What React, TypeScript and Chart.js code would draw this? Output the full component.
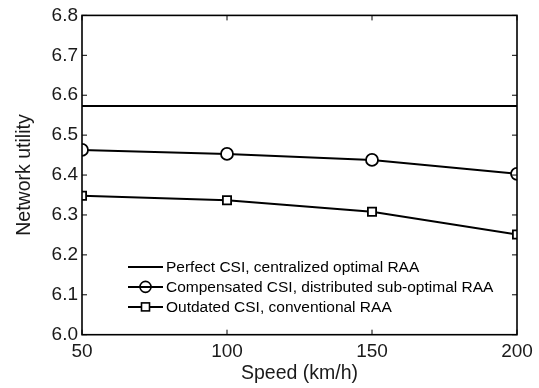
import React, { useEffect, useRef } from "react";
import { Chart, registerables } from "chart.js";

Chart.register(...registerables);

const speeds = [50, 100, 150, 200];
const perfectCSI = [6.573, 6.573, 6.573, 6.573];
const compensatedCSI = [6.463, 6.453, 6.438, 6.403];
const outdatedCSI = [6.348, 6.337, 6.308, 6.251];
const legendLabels = [
  "Perfect CSI, centralized optimal RAA",
  "Compensated CSI, distributed sub-optimal RAA",
  "Outdated CSI, conventional RAA",
];
const xTicks = [50, 100, 150, 200];
const yTicks = [6.0, 6.1, 6.2, 6.3, 6.4, 6.5, 6.6, 6.7, 6.8];

const FONT = "'Liberation Sans', Arial, Helvetica, sans-serif";

const boxPlugin = {
  id: "boxTicks",
  afterDatasetsDraw(chart: any) {
    const { ctx, chartArea: a, scales } = chart;
    const x = scales.x;
    const y = scales.y;
    ctx.save();
    ctx.strokeStyle = "#000";
    ctx.lineWidth = 1.6;
    ctx.strokeRect(a.left, a.top, a.right - a.left, a.bottom - a.top);
    ctx.lineWidth = 1;
    const tl = 5;
    ctx.beginPath();
    xTicks.forEach((v) => {
      const px = x.getPixelForValue(v);
      ctx.moveTo(px, a.bottom);
      ctx.lineTo(px, a.bottom - tl);
      ctx.moveTo(px, a.top);
      ctx.lineTo(px, a.top + tl);
    });
    yTicks.forEach((v) => {
      const py = y.getPixelForValue(v);
      ctx.moveTo(a.left, py);
      ctx.lineTo(a.left + tl, py);
      ctx.moveTo(a.right, py);
      ctx.lineTo(a.right - tl, py);
    });
    ctx.stroke();
    ctx.restore();
  },
  afterDraw(chart: any) {
    const { ctx, chartArea: a } = chart;
    ctx.save();
    const x0 = a.left + 46;
    const len = 35;
    const y0 = a.top + 251.5;
    const gap = 20;
    ctx.font = `15.5px ${FONT}`;
    ctx.textBaseline = "middle";
    ctx.textAlign = "left";
    ctx.fillStyle = "#000";
    ctx.strokeStyle = "#000";
    legendLabels.forEach((label, i) => {
      const yy = y0 + i * gap;
      ctx.lineWidth = 2;
      ctx.beginPath();
      ctx.moveTo(x0, yy);
      ctx.lineTo(x0 + len, yy);
      ctx.stroke();
      const cx = x0 + len / 2;
      ctx.lineWidth = 1.6;
      if (i === 1) {
        ctx.beginPath();
        ctx.arc(cx, yy, 5.5, 0, Math.PI * 2);
        ctx.stroke();
      } else if (i === 2) {
        ctx.fillStyle = "#fff";
        ctx.fillRect(cx - 4, yy - 4, 8, 8);
        ctx.strokeRect(cx - 4, yy - 4, 8, 8);
        ctx.fillStyle = "#000";
      }
      ctx.fillText(label, x0 + len + 3, yy + 1);
    });
    ctx.restore();
  },
};

export default function App() {
  const ref = useRef<HTMLCanvasElement>(null);
  useEffect(() => {
    if (!ref.current) return;
    const chart = new Chart(ref.current, {
      type: "line",
      data: {
        labels: speeds,
        datasets: [
          {
            label: legendLabels[0],
            data: speeds.map((s, i) => ({ x: s, y: perfectCSI[i] })),
            borderColor: "#000",
            borderWidth: 2,
            pointRadius: 0,
            fill: false,
          },
          {
            label: legendLabels[1],
            data: speeds.map((s, i) => ({ x: s, y: compensatedCSI[i] })),
            borderColor: "#000",
            borderWidth: 2,
            pointStyle: "circle",
            pointRadius: 6,
            pointBorderWidth: 1.8,
            pointBackgroundColor: "#fff",
            pointBorderColor: "#000",
            fill: false,
          },
          {
            label: legendLabels[2],
            data: speeds.map((s, i) => ({ x: s, y: outdatedCSI[i] })),
            borderColor: "#000",
            borderWidth: 2,
            pointStyle: "rect",
            pointRadius: 5.8,
            pointBorderWidth: 1.8,
            pointBackgroundColor: "#fff",
            pointBorderColor: "#000",
            fill: false,
          },
        ],
      },
      options: {
        animation: false,
        responsive: false,
        maintainAspectRatio: false,
        layout: { padding: { left: 0, right: 22, top: 13, bottom: 0 } },
        plugins: {
          legend: { display: false },
          tooltip: { enabled: false },
        },
        scales: {
          x: {
            type: "linear",
            min: 50,
            max: 200,
            afterBuildTicks: (s: any) => {
              s.ticks = xTicks.map((v) => ({ value: v }));
            },
            afterFit: (s: any) => {
              s.height = 53.3;
            },
            grid: { display: false, drawTicks: false },
            border: { display: false },
            ticks: {
              color: "#1a1a1a",
              font: { family: FONT, size: 19 },
              padding: 6,
              maxRotation: 0,
              callback: (v: any) => String(v),
            },
            title: {
              display: true,
              text: "Speed (km/h)",
              color: "#1a1a1a",
              font: { family: FONT, size: 19.5 },
              padding: { top: 0, bottom: 2.3 },
            },
          },
          y: {
            type: "linear",
            min: 6.0,
            max: 6.8,
            afterBuildTicks: (s: any) => {
              s.ticks = yTicks.map((v) => ({ value: v }));
            },
            afterFit: (s: any) => {
              s.width = 82;
            },
            grid: { display: false, drawTicks: false },
            border: { display: false },
            ticks: {
              color: "#1a1a1a",
              font: { family: FONT, size: 19 },
              padding: 4,
              callback: (v: any) => Number(v).toFixed(1),
            },
            title: {
              display: true,
              text: "Network utility",
              color: "#1a1a1a",
              font: { family: FONT, size: 19.5 },
              padding: { top: 13.3, bottom: 0 },
            },
          },
        },
      },
      plugins: [boxPlugin],
    });
    return () => chart.destroy();
  }, []);
  return (
    <div style={{ position: "fixed", left: 0, top: 0, width: 539, height: 388, background: "#fff" }}>
      <canvas ref={ref} width={539} height={388} style={{ display: "block" }} />
    </div>
  );
}
